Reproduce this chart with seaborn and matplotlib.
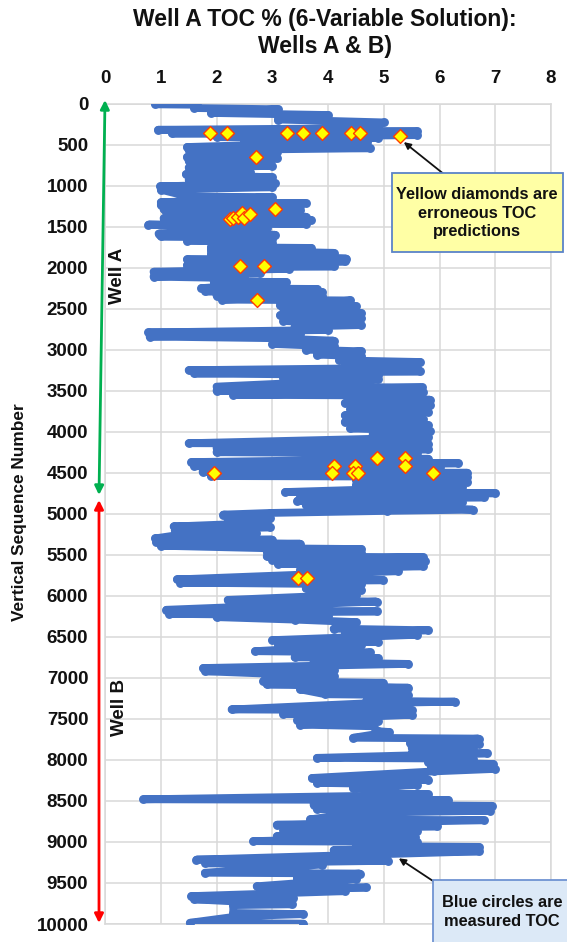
import matplotlib
matplotlib.use("Agg")
import matplotlib.pyplot as plt
import seaborn as sns
import pandas as pd
from matplotlib.patches import Rectangle

# Measured TOC trace (vertices in sequence order): Well A
seq_well_a = [10, 15, 55, 70, 115, 140, 195, 230,
              300, 320, 340, 365, 385, 410, 420, 450, 465,
              530, 545, 570, 590, 650, 670, 700, 760, 780, 830, 860, 900, 930, 970,
              1010, 1020, 1050, 1135, 1140, 1205, 1215, 1235, 1245, 1290, 1300, 1320,
              1380, 1400, 1420, 1440, 1465, 1475, 1520, 1585, 1600, 1620, 1650, 1670, 1700,
              1750, 1760, 1785, 1820, 1830, 1890, 1900, 1925, 1970, 1985, 2005, 2015,
              2050, 2070, 2110, 2130, 2170, 2175, 2250, 2260, 2290, 2300, 2340, 2350, 2390, 2400,
              2460, 2470, 2495, 2555, 2580, 2620, 2650, 2700, 2720, 2760,
              2790, 2810, 2840, 2860, 2890, 2930, 2960,
              3000, 3020, 3060, 3080, 3130, 3150, 3200, 3220,
              3250, 3265, 3290, 3310, 3340, 3360,
              3450, 3460, 3500, 3520, 3550, 3560, 3590, 3610, 3650, 3680, 3720, 3760,
              3800, 3840, 3880, 3920, 3960, 3990, 4030, 4060, 4085,
              4140, 4150, 4200, 4215, 4250, 4265, 4300, 4320, 4330,
              4370, 4385, 4420, 4430, 4490, 4500, 4540, 4550, 4590, 4610, 4650, 4670,
              4735, 4750, 4775, 4800, 4840, 4860, 4890, 4910, 4950, 4965]
toc_well_a = [0.90, 1.65, 1.60, 3.10, 1.90, 4.00, 3.10, 5.00,
              4.80, 0.95, 5.60, 1.20, 5.60, 2.00, 4.90, 2.50, 4.70,
              1.47, 4.75, 1.50, 3.08, 1.47, 3.08, 1.50, 3.00, 1.50, 2.60, 1.45, 3.00, 1.50, 3.05,
              0.99, 3.00, 1.00, 1.50, 3.00, 1.00, 3.60, 1.00, 3.50, 1.05, 3.50, 1.10,
              3.60, 1.05, 3.70, 1.10, 3.60, 0.78, 2.90, 0.96, 3.05, 1.00, 3.00, 1.47, 3.00,
              1.90, 3.70, 1.90, 4.10, 1.90, 4.33, 1.47, 4.30, 1.47, 4.10, 1.50, 3.30,
              0.87, 2.78, 0.87, 2.50, 1.95, 3.25, 1.73, 3.80, 1.80, 3.90, 2.00, 3.90, 2.10, 4.40,
              3.14, 4.50, 3.20, 4.60, 3.14, 4.60, 3.20, 4.60, 3.40, 4.00,
              0.78, 3.50, 0.80, 3.00, 4.10, 3.00, 4.10,
              3.60, 4.60, 3.80, 4.60, 4.20, 5.65, 4.30, 5.60,
              1.50, 5.65, 1.60, 4.90, 3.20, 4.90,
              2.00, 5.68, 2.00, 5.70, 2.30, 5.50, 4.64, 5.83, 4.30, 5.83, 4.40, 5.80,
              4.30, 5.70, 4.30, 5.80, 4.40, 5.83, 4.80, 5.80, 4.90,
              1.50, 5.80, 2.00, 5.80, 2.00, 5.60, 4.00, 3.60, 5.80,
              1.55, 6.34, 1.60, 6.00, 1.75, 6.50, 1.90, 6.50, 4.50, 6.50, 4.50, 6.40,
              3.23, 7.00, 3.50, 6.80, 3.45, 6.40, 3.60, 5.40, 6.60, 5.05]

# Measured TOC trace (vertices in sequence order): Well B
seq_well_b = [4990, 5010, 5050, 5080, 5110, 5155, 5165, 5200, 5230, 5260, 5300, 5315, 5345, 5365, 5390,
              5420, 5430, 5460, 5480, 5520, 5530, 5560, 5580, 5610, 5640, 5680, 5700, 5740,
              5800, 5810, 5840, 5860, 5910, 5930, 5960, 5985, 6050, 6070,
              6170, 6190, 6220, 6240, 6260, 6290, 6320,
              6400, 6420, 6460, 6475, 6540, 6560, 6590, 6600, 6675, 6690, 6750, 6760, 6810, 6830,
              6880, 6900, 6920, 6980, 7000, 7040, 7060, 7080, 7120, 7140, 7200, 7210, 7280, 7290, 7310,
              7385, 7395, 7440, 7450, 7510, 7530, 7570, 7590, 7650, 7660,
              7730, 7740, 7790, 7800, 7850, 7860, 7915, 7920, 7975, 7985,
              8030, 8050, 8090, 8110, 8140,
              8220, 8240, 8280, 8300, 8340, 8350, 8400, 8420, 8440,
              8480, 8490, 8545, 8560, 8600, 8620, 8645, 8725, 8735,
              8790, 8810, 8850, 8870, 8930, 8940, 8990, 9000, 9050, 9060, 9100, 9115,
              9215, 9230, 9260, 9275, 9375, 9385, 9440, 9450,
              9540, 9555, 9590, 9600, 9660, 9680, 9700, 9760, 9770, 9865, 9880, 9905, 9985, 9995]
toc_well_b = [2.96, 2.12, 2.96, 2.20, 2.90, 1.23, 2.96, 1.25, 2.70, 1.30, 0.90, 3.00, 0.92, 3.50, 1.00,
              2.90, 4.60, 2.90, 4.60, 2.90, 5.70, 3.00, 5.74, 3.10, 5.70, 3.50, 5.26, 3.60,
              1.29, 4.99, 1.35, 4.60, 3.60, 4.60, 3.70, 4.50, 2.20, 4.87,
              1.10, 4.87, 1.15, 4.00, 2.00, 3.40, 4.50,
              4.10, 5.80, 4.30, 5.60, 3.00, 4.90, 3.10, 4.60, 2.69, 4.75, 3.40, 4.90, 3.74, 5.44,
              1.76, 4.10, 1.80, 4.10, 2.90, 2.84, 4.99, 2.90, 5.44, 3.50, 3.95, 5.44, 4.69, 6.28, 4.70,
              2.27, 5.50, 3.20, 5.50, 3.45, 4.90, 3.50, 4.80, 4.90, 5.10,
              4.45, 6.70, 5.47, 6.70, 5.50, 6.60, 5.50, 6.85, 3.80, 6.60,
              5.80, 6.96, 5.85, 6.99, 5.90,
              3.71, 5.80, 3.80, 5.60, 4.45, 5.00, 5.00, 5.80, 4.50,
              0.69, 6.16, 3.74, 6.94, 3.80, 6.90, 4.50, 3.68, 6.79,
              3.08, 5.95, 3.20, 5.60, 3.08, 5.56, 2.66, 5.60, 4.50, 6.70, 4.10, 6.70,
              1.64, 5.08, 1.80, 3.90, 1.79, 4.57, 3.44, 4.50,
              2.72, 4.69, 2.80, 4.30, 1.55, 3.38, 1.60, 3.35, 2.30, 2.30, 3.56, 2.40, 1.52, 3.56]

# Erroneous TOC predictions (yellow diamonds)
pred_seq = [360, 360, 360, 360, 360, 360, 360, 400,
            656, 1290, 1411, 1390, 1378, 1337, 1399, 1346,
            1980, 1980, 2395,
            4322, 4322, 4423, 4423, 4423, 4505, 4505, 4505, 4505, 4505,
            5784, 5784]
pred_toc = [1.88, 2.18, 3.27, 3.56, 3.89, 4.41, 4.57, 5.29,
            2.70, 3.05, 2.24, 2.30, 2.39, 2.45, 2.50, 2.60,
            2.42, 2.86, 2.72,
            4.88, 5.38, 4.10, 4.48, 5.38, 1.96, 4.07, 4.44, 4.53, 5.88,
            3.47, 3.62]

x_ticks = [0, 1, 2, 3, 4, 5, 6, 7, 8]
y_ticks = list(range(0, 10001, 500))

title_text = "Well A TOC % (6-Variable Solution):\nWells A & B)"
y_label = "Vertical Sequence Number"

BLUE = "#4472C4"
GRID = "#D9D9D9"

sns.set_theme(style="white")
plt.rcParams["font.family"] = ["Liberation Sans", "DejaVu Sans"]
NARROW = ["Liberation Sans Narrow", "Liberation Sans", "DejaVu Sans"]

fig = plt.figure(figsize=(5.67, 9.42), dpi=100)
ax = fig.add_axes([0.1852, 0.0191, 0.7866, 0.8710])

trace = pd.DataFrame({
    "toc": toc_well_a + toc_well_b,
    "seq": seq_well_a + seq_well_b,
})
sns.lineplot(data=trace, x="toc", y="seq", sort=False, estimator=None,
             color=BLUE, linewidth=5.6, marker="o", markersize=6.4,
             markeredgewidth=0, solid_capstyle="round", solid_joinstyle="round",
             ax=ax, zorder=3)

preds = pd.DataFrame({"toc": pred_toc, "seq": pred_seq})
sns.scatterplot(data=preds, x="toc", y="seq", marker="D", s=50,
                color="#FFFF00", edgecolor="#FF3B00", linewidth=1.0,
                ax=ax, zorder=4)

ax.set_xlim(0, 8)
ax.set_ylim(10000, 0)
ax.xaxis.tick_top()
ax.set_xticks(x_ticks)
ax.set_yticks(y_ticks)
ax.set_xticklabels([str(v) for v in x_ticks], fontsize=13.5, fontweight="bold")
ax.set_yticklabels([str(v) for v in y_ticks], fontsize=13.5, fontweight="bold")
ax.tick_params(axis="x", length=0, pad=12, colors="#111111")
ax.tick_params(axis="y", length=0, pad=12, colors="#111111")
ax.grid(True, color=GRID, linewidth=1.1)
ax.set_axisbelow(True)
for side in ax.spines.values():
    side.set_color(GRID)
    side.set_linewidth(1.1)
ax.set_xlabel("")
ax.set_ylabel("")

fig.text(325 / 567, 1 - 33 / 942, title_text, ha="center", va="center",
         fontsize=16.5, fontweight="bold", linespacing=1.2, color="#111111")
fig.text(20 / 567, 1 - 512 / 942, y_label, rotation=90, ha="center", va="center",
         fontsize=12.4, fontweight="bold", family=NARROW, color="#111111")

# Well extents
ax.annotate("", xy=(105 / 567, 1 - 100 / 942), xytext=(99 / 567, 1 - 495 / 942),
            xycoords="figure fraction", textcoords="figure fraction",
            arrowprops=dict(arrowstyle="<|-|>", color="#00B050", lw=2,
                            mutation_scale=13, shrinkA=0, shrinkB=0))
ax.annotate("", xy=(99 / 567, 1 - 500 / 942), xytext=(99 / 567, 1 - 923 / 942),
            xycoords="figure fraction", textcoords="figure fraction",
            arrowprops=dict(arrowstyle="<|-|>", color="#FF0000", lw=2,
                            mutation_scale=13, shrinkA=0, shrinkB=0))
fig.text(117 / 567, 1 - 276 / 942, "Well A", rotation=90, ha="center", va="center",
         fontsize=13.5, fontweight="bold", family=NARROW, color="#111111")
fig.text(120 / 567, 1 - 707 / 942, "Well B", rotation=90, ha="center", va="center",
         fontsize=13.5, fontweight="bold", family=NARROW, color="#111111")

# Callout boxes
fig.add_artist(Rectangle((392 / 567, 1 - 252 / 942), 171 / 567, 79 / 942,
                         transform=fig.transFigure, facecolor="#FFFFA5",
                         edgecolor="#5B84C8", linewidth=1.3, zorder=5))
fig.text(477 / 567, 1 - 213 / 942, "Yellow diamonds are\nerroneous TOC\npredictions",
         ha="center", va="center", fontsize=11.8, fontweight="bold",
         linespacing=1.3, color="#111111", zorder=6)
ax.annotate("", xy=(5.36, 470), xycoords="data",
            xytext=(445 / 567, 1 - 175 / 942), textcoords="figure fraction",
            arrowprops=dict(arrowstyle="-|>", color="#111111", lw=1.3,
                            mutation_scale=10, shrinkA=0, shrinkB=0), zorder=6)

fig.add_artist(Rectangle((433 / 567, -0.05), 0.4, 0.05 + (1 - 880 / 942),
                         transform=fig.transFigure, facecolor="#DCE9F7",
                         edgecolor="#6F93D2", linewidth=1.3, zorder=5))
fig.text(502 / 567, 1 - 912 / 942, "Blue circles are\nmeasured TOC",
         ha="center", va="center", fontsize=11.8, fontweight="bold",
         linespacing=1.3, color="#111111", zorder=6)
ax.annotate("", xy=(5.27, 9200), xycoords="data",
            xytext=(433 / 567, 1 - 881 / 942), textcoords="figure fraction",
            arrowprops=dict(arrowstyle="-|>", color="#111111", lw=1.3,
                            mutation_scale=10, shrinkA=0, shrinkB=0), zorder=6,
            annotation_clip=False)

fig.savefig("out.png", dpi=100)
